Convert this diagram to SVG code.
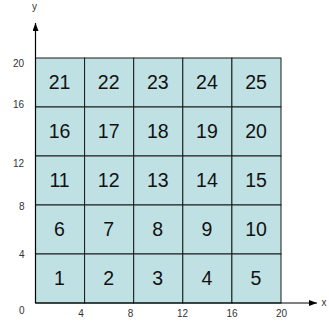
<svg xmlns="http://www.w3.org/2000/svg" width="329" height="321" viewBox="0 0 329 321">
<defs>
<style>
.cell{fill:#bfe1e4;stroke:#1a1a1a;stroke-width:1}
.num{font-family:"Liberation Sans",Arial,sans-serif;font-size:19.5px;fill:#111;text-anchor:middle}
.tick{font-family:"Liberation Sans",Arial,sans-serif;font-size:10px;fill:#333}
.axis{stroke:#000;stroke-width:1.2;fill:none}
</style>
<marker id="arr" markerWidth="8" markerHeight="6" refX="8" refY="3" orient="auto" markerUnits="userSpaceOnUse">
<path d="M0,0 L8,3 L0,6 Z" fill="#000"/>
</marker>
</defs>
<rect width="329" height="321" fill="#fff"/>
<g id="cells">
<g id="n21"><rect class="cell" x="35.5" y="58" width="49.1" height="49"/><text class="num" x="59.5" y="88.5">21</text></g>
<g id="n22"><rect class="cell" x="84.6" y="58" width="49.1" height="49"/><text class="num" x="108.7" y="88.5">22</text></g>
<g id="n23"><rect class="cell" x="133.7" y="58" width="49.1" height="49"/><text class="num" x="157.8" y="88.5">23</text></g>
<g id="n24"><rect class="cell" x="182.8" y="58" width="49.1" height="49"/><text class="num" x="206.9" y="88.5">24</text></g>
<g id="n25"><rect class="cell" x="231.9" y="58" width="49.1" height="49"/><text class="num" x="256" y="88.5">25</text></g>
<g id="n16"><rect class="cell" x="35.5" y="107" width="49.1" height="49"/><text class="num" x="59.5" y="137.5">16</text></g>
<g id="n17"><rect class="cell" x="84.6" y="107" width="49.1" height="49"/><text class="num" x="108.7" y="137.5">17</text></g>
<g id="n18"><rect class="cell" x="133.7" y="107" width="49.1" height="49"/><text class="num" x="157.8" y="137.5">18</text></g>
<g id="n19"><rect class="cell" x="182.8" y="107" width="49.1" height="49"/><text class="num" x="206.9" y="137.5">19</text></g>
<g id="n20"><rect class="cell" x="231.9" y="107" width="49.1" height="49"/><text class="num" x="256" y="137.5">20</text></g>
<g id="n11"><rect class="cell" x="35.5" y="156" width="49.1" height="49"/><text class="num" x="59.5" y="186.5">11</text></g>
<g id="n12"><rect class="cell" x="84.6" y="156" width="49.1" height="49"/><text class="num" x="108.7" y="186.5">12</text></g>
<g id="n13"><rect class="cell" x="133.7" y="156" width="49.1" height="49"/><text class="num" x="157.8" y="186.5">13</text></g>
<g id="n14"><rect class="cell" x="182.8" y="156" width="49.1" height="49"/><text class="num" x="206.9" y="186.5">14</text></g>
<g id="n15"><rect class="cell" x="231.9" y="156" width="49.1" height="49"/><text class="num" x="256" y="186.5">15</text></g>
<g id="n6"><rect class="cell" x="35.5" y="205" width="49.1" height="49"/><text class="num" x="59.5" y="235.5">6</text></g>
<g id="n7"><rect class="cell" x="84.6" y="205" width="49.1" height="49"/><text class="num" x="108.7" y="235.5">7</text></g>
<g id="n8"><rect class="cell" x="133.7" y="205" width="49.1" height="49"/><text class="num" x="157.8" y="235.5">8</text></g>
<g id="n9"><rect class="cell" x="182.8" y="205" width="49.1" height="49"/><text class="num" x="206.9" y="235.5">9</text></g>
<g id="n10"><rect class="cell" x="231.9" y="205" width="49.1" height="49"/><text class="num" x="256" y="235.5">10</text></g>
<g id="n1"><rect class="cell" x="35.5" y="254" width="49.1" height="49"/><text class="num" x="59.5" y="284.5">1</text></g>
<g id="n2"><rect class="cell" x="84.6" y="254" width="49.1" height="49"/><text class="num" x="108.7" y="284.5">2</text></g>
<g id="n3"><rect class="cell" x="133.7" y="254" width="49.1" height="49"/><text class="num" x="157.8" y="284.5">3</text></g>
<g id="n4"><rect class="cell" x="182.8" y="254" width="49.1" height="49"/><text class="num" x="206.9" y="284.5">4</text></g>
<g id="n5"><rect class="cell" x="231.9" y="254" width="49.1" height="49"/><text class="num" x="256" y="284.5">5</text></g>
</g>
<g id="axes">
<line class="axis" x1="35.5" y1="303" x2="35.5" y2="23" marker-end="url(#arr)"/>
<line class="axis" x1="35.5" y1="303" x2="317" y2="303" marker-end="url(#arr)"/>
</g>
<g id="labels">
<text class="tick" x="34.5" y="9.5" font-size="12" text-anchor="middle">y</text>
<text class="tick" x="321.5" y="306" font-size="11">x</text>
<text class="tick" x="13" y="67">20</text>
<text class="tick" x="13" y="108">16</text>
<text class="tick" x="13" y="167">12</text>
<text class="tick" x="19" y="210">8</text>
<text class="tick" x="19" y="258">4</text>
<text class="tick" x="19" y="314">0</text>
<text class="tick" x="81" y="317" text-anchor="middle">4</text>
<text class="tick" x="130.5" y="317" text-anchor="middle">8</text>
<text class="tick" x="182.5" y="317" text-anchor="middle">12</text>
<text class="tick" x="232" y="317" text-anchor="middle">16</text>
<text class="tick" x="281.5" y="317" text-anchor="middle">20</text>
</g>
</svg>
